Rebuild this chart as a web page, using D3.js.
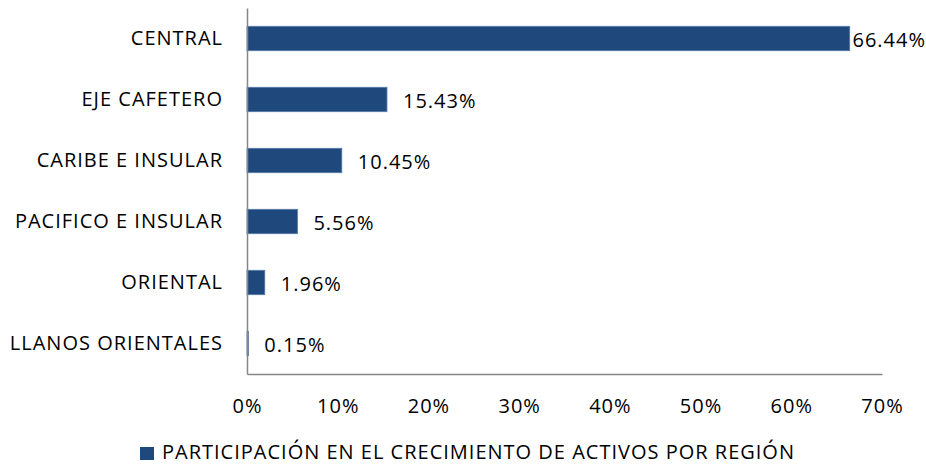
<!DOCTYPE html>
<html>
<head>
<meta charset="utf-8">
<script src="https://cdn.jsdelivr.net/npm/d3@7"></script>
<style>
  body { margin: 0; background: #fff; }
  text { font-family: "Open Sans", sans-serif; fill: #000; letter-spacing: 1px; }
</style>
</head>
<body>
<div id="main"></div>
<script>
// ---------------- data -----------------//
let regions = ['CENTRAL', 'EJE CAFETERO', 'CARIBE E INSULAR', 'PACIFICO E INSULAR', 'ORIENTAL', 'LLANOS ORIENTALES']
let shares = [66.44, 15.43, 10.45, 5.56, 1.96, 0.15]
let ticks = [0, 10, 20, 30, 40, 50, 60, 70]
let seriesName = 'PARTICIPACIÓN EN EL CRECIMIENTO DE ACTIVOS POR REGIÓN'

// ---------------- layout -----------------//
let width = 926;
let height = 464;
let plotLeft = 247, plotRight = 882, plotTop = 8, plotBottom = 374;
let fontSize = 20;
let font = '"Open Sans", sans-serif';

let svg = d3.select("#main")
  .append("svg")
  .attr("width", width)
  .attr("height", height)

let x = d3.scaleLinear().domain([0, 70]).range([plotLeft, plotRight]);
let y = d3.scaleBand().domain(regions).range([plotTop, plotBottom]).paddingInner(0.6).paddingOuter(0.3);

// bars
svg.selectAll(".bar")
  .data(regions)
  .join("rect")
  .attr("class", "bar")
  .attr("x", x(0))
  .attr("y", d => y(d))
  .attr("width", (d, i) => x(shares[i]) - x(0))
  .attr("height", y.bandwidth())
  .attr("fill", "#1F497D")
  .attr("stroke", "#5479a8")
  .attr("stroke-width", 0.8)

// axes
let xAxis = d3.axisBottom(x).tickValues(ticks).tickSize(0).tickPadding(25).tickFormat(d => d + '%');
svg.append("g")
  .attr("transform", `translate(0, ${plotBottom})`)
  .call(xAxis)
  .call(g => g.select(".domain").attr("stroke", "#868686").attr("stroke-width", 1.5))
  .call(g => g.selectAll("text").attr("font-size", fontSize).attr("font-family", font).attr("fill", "#000"));

let yAxis = d3.axisLeft(y).tickSize(0).tickPadding(24);
svg.append("g")
  .attr("transform", `translate(${plotLeft}, 0)`)
  .call(yAxis)
  .call(g => g.select(".domain").attr("stroke", "#868686").attr("stroke-width", 1.5))
  .call(g => g.selectAll("text").attr("font-size", fontSize).attr("font-family", font).attr("fill", "#000"));

// value labels
svg.selectAll(".val")
  .data(regions)
  .join("text")
  .attr("class", "val")
  .attr("font-size", fontSize)
  .attr("dy", "0.35em")
  .attr("y", d => y(d) + y.bandwidth() / 2 + 1)
  .text((d, i) => shares[i].toFixed(2) + '%')
  .attr("x", function(d, i) {
    let w = this.getComputedTextLength();
    return Math.min(x(shares[i]) + 16, width - w);
  })

// legend
let legend = svg.append("g").attr("transform", `translate(140, 453)`);
legend.append("rect")
  .attr("x", 0).attr("y", -6).attr("width", 14).attr("height", 13)
  .attr("fill", "#1F497D")
legend.append("text")
  .attr("x", 22).attr("y", 6)
  .attr("font-size", fontSize)
  .text(seriesName)
</script>
</body>
</html>
